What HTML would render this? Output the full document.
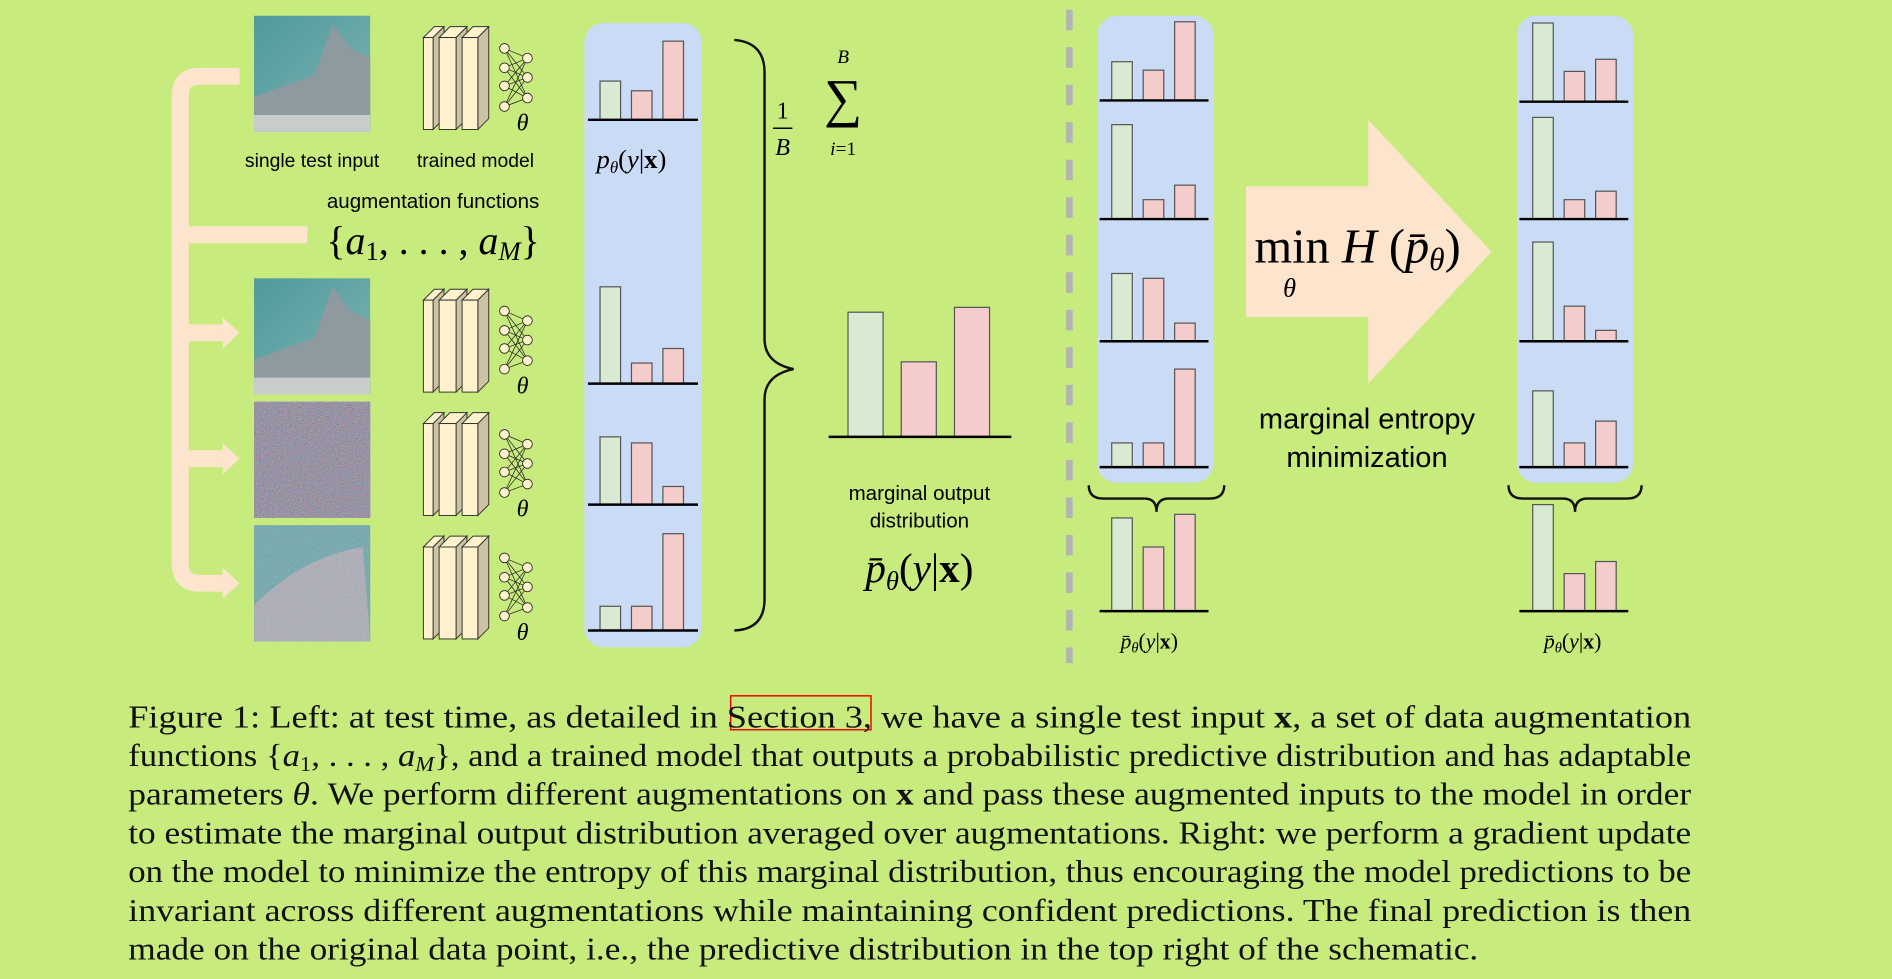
<!DOCTYPE html>
<html><head><meta charset="utf-8"><style>
html,body{margin:0;padding:0;background:#c8eb7d;}
svg{display:block;}
.sans{font-family:"Liberation Sans",sans-serif;}
.serif{font-family:"Liberation Serif",serif;}
</style></head><body>
<svg id="fig" width="1892" height="979" viewBox="0 0 1564 809" preserveAspectRatio="none" xmlns="http://www.w3.org/2000/svg">
<defs>
<filter id="noise" x="0" y="0" width="100%" height="100%">
<feTurbulence type="fractalNoise" baseFrequency="0.9" numOctaves="2" seed="3"/>
<feColorMatrix type="matrix" values="0.9 0 0 0 0.05  0 0.7 0 0 0.1  0 0 0.9 0 0.1  0 0 0 0 1"/>
</filter>
<linearGradient id="sea" x1="0" y1="0" x2="1" y2="1"><stop offset="0" stop-color="#4f9a9c"/><stop offset="1" stop-color="#7fb3b3"/></linearGradient>
</defs>
<rect width="1564" height="809" fill="#c8eb7d"/>

<g fill="none" stroke="#fce5cc" stroke-width="14">
<path d="M198,63 H165 Q149,63 149,79 V466 Q149,482 165,482 H186"/>
<path d="M149,194 H254"/>
<path d="M149,275 H186"/>
<path d="M149,379 H186"/>
</g>
<g fill="#fce5cc">
<polygon points="184,262 198,275 184,288"/>
<polygon points="184,366 198,379 184,392"/>
<polygon points="184,469 198,482 184,495"/>
</g>

<g>
<rect x="210" y="13" width="96" height="96" fill="url(#sea)"/>
<path d="M210,80 L260,62 L275,20 L290,40 L306,48 V109 H210Z" fill="#8d9aa0"/>
<rect x="210" y="95" width="96" height="14" fill="#c8cccc"/>
</g>
<g>
<rect x="210" y="230" width="96" height="96" fill="url(#sea)"/>
<path d="M210,297 L260,279 L275,237 L290,257 L306,265 V326 H210Z" fill="#8d9aa0"/>
<rect x="210" y="312" width="96" height="14" fill="#c8cccc"/>
</g>
<g>
<rect x="210" y="332" width="96" height="96" filter="url(#noise)"/>
<rect x="210" y="332" width="96" height="96" fill="#5a5a6a" opacity="0.35"/>
</g>
<g>
<rect x="210" y="434" width="96" height="96" fill="#5fa8a8"/>
<path d="M210,500 Q250,460 300,452 L306,530 H210Z" fill="#a9aeb3"/>
<rect x="210" y="434" width="96" height="96" filter="url(#noise)" opacity="0.3"/>
</g>

<g id="models"></g>

<text class="sans" x="258" y="138" font-size="16" text-anchor="middle">single test input</text>
<text class="sans" x="393" y="138" font-size="16" text-anchor="middle">trained model</text>
<text class="sans" x="358" y="172" font-size="17" text-anchor="middle">augmentation functions</text>
<text class="serif" x="358" y="210" font-size="33" text-anchor="middle">{<tspan font-style="italic">a</tspan><tspan font-size="22" dy="5">1</tspan><tspan dy="-5">, . . . , </tspan><tspan font-style="italic">a</tspan><tspan font-size="22" font-style="italic" dy="5">M</tspan><tspan dy="-5">}</tspan></text>

<rect x="483" y="19" width="97" height="516" rx="16" fill="#c9dbf5"/>
<text class="serif" x="522" y="139" font-size="22" text-anchor="middle"><tspan font-style="italic">p</tspan><tspan font-size="14" font-style="italic" dy="4">θ</tspan><tspan dy="-4">(</tspan><tspan font-style="italic">y</tspan>|<tspan font-weight="bold">x</tspan>)</text>

<path d="M607,33 Q632,35 632,60 V280 Q632,300 656,305 Q632,310 632,330 V495 Q632,520 607,521" fill="none" stroke="#111" stroke-width="2"/>
<g class="serif">
<text x="647" y="98" font-size="20" text-anchor="middle">1</text>
<line x1="639" y1="106" x2="655" y2="106" stroke="#000" stroke-width="1.3"/>
<text x="647" y="128" font-size="20" text-anchor="middle" font-style="italic">B</text>
<text x="697" y="52" font-size="16" text-anchor="middle" font-style="italic">B</text>
<text x="697" y="96" font-size="44" text-anchor="middle">∑</text>
<text x="697" y="128" font-size="16" text-anchor="middle"><tspan font-style="italic">i</tspan>=1</text>
</g>

<text class="sans" x="760" y="413" font-size="17" text-anchor="middle">marginal output</text>
<text class="sans" x="760" y="436" font-size="17" text-anchor="middle">distribution</text>
<text class="serif" x="760" y="481" font-size="34" text-anchor="middle"><tspan font-style="italic">p̄</tspan><tspan font-size="22" font-style="italic" dy="6">θ</tspan><tspan dy="-6">(</tspan><tspan font-style="italic">y</tspan>|<tspan font-weight="bold">x</tspan>)</text>

<line x1="884" y1="8" x2="884" y2="548" stroke="#b4b4b4" stroke-width="5.5" stroke-dasharray="17 14"/>

<rect x="907" y="13" width="96" height="386" rx="16" fill="#c9dbf5"/>
<rect x="1254" y="13" width="96" height="386" rx="16" fill="#c9dbf5"/>

<path d="M900,401 Q900,412 912,412 H946 Q956,412 956,423 Q956,412 966,412 H1000 Q1012,412 1012,401" fill="none" stroke="#111" stroke-width="2"/>
<path d="M1247,401 Q1247,412 1259,412 H1292 Q1302,412 1302,423 Q1302,412 1312,412 H1345 Q1357,412 1357,401" fill="none" stroke="#111" stroke-width="2"/>

<polygon points="1030,154 1131,154 1131,99 1233,208 1131,317 1131,262 1030,262" fill="#fce5cc"/>
<g class="serif">
<text x="1037" y="217" font-size="40">min <tspan font-style="italic">H</tspan> (<tspan font-style="italic">p̄</tspan><tspan font-size="26" font-style="italic" dy="6">θ</tspan><tspan dy="-6">)</tspan></text>
<text x="1066" y="245" font-size="22" font-style="italic" text-anchor="middle">θ</text>
</g>
<text class="sans" x="1130" y="354" font-size="24" text-anchor="middle">marginal entropy</text>
<text class="sans" x="1130" y="386" font-size="24" text-anchor="middle">minimization</text>

<text class="serif" x="950" y="536" font-size="18" text-anchor="middle"><tspan font-style="italic">p̄</tspan><tspan font-size="12" font-style="italic" dy="3">θ</tspan><tspan dy="-3">(</tspan><tspan font-style="italic">y</tspan>|<tspan font-weight="bold">x</tspan>)</text>
<text class="serif" x="1300" y="536" font-size="18" text-anchor="middle"><tspan font-style="italic">p̄</tspan><tspan font-size="12" font-style="italic" dy="3">θ</tspan><tspan dy="-3">(</tspan><tspan font-style="italic">y</tspan>|<tspan font-weight="bold">x</tspan>)</text>

<g id="bars"></g>

<rect x="604" y="575" width="116" height="28" fill="none" stroke="#e00" stroke-width="1.2"/>
<g class="serif" font-size="26" fill="#111">
<text x="106" y="601" textLength="1292" lengthAdjust="spacingAndGlyphs">Figure 1: Left: at test time, as detailed in Section 3, we have a single test input <tspan font-weight="bold">x</tspan>, a set of data augmentation</text>
<text x="106" y="633" textLength="1292" lengthAdjust="spacingAndGlyphs">functions {<tspan font-style="italic">a</tspan><tspan font-size="17" dy="4">1</tspan><tspan dy="-4">, . . . , </tspan><tspan font-style="italic">a<tspan font-size="17" dy="4">M</tspan></tspan><tspan dy="-4">}, and a trained model that outputs a probabilistic predictive distribution and has adaptable</tspan></text>
<text x="106" y="665" textLength="1292" lengthAdjust="spacingAndGlyphs">parameters <tspan font-style="italic">θ</tspan>. We perform different augmentations on <tspan font-weight="bold">x</tspan> and pass these augmented inputs to the model in order</text>
<text x="106" y="697" textLength="1292" lengthAdjust="spacingAndGlyphs">to estimate the marginal output distribution averaged over augmentations. Right: we perform a gradient update</text>
<text x="106" y="729" textLength="1292" lengthAdjust="spacingAndGlyphs">on the model to minimize the entropy of this marginal distribution, thus encouraging the model predictions to be</text>
<text x="106" y="761" textLength="1292" lengthAdjust="spacingAndGlyphs">invariant across different augmentations while maintaining confident predictions. The final prediction is then</text>
<text x="106" y="793" textLength="1116" lengthAdjust="spacingAndGlyphs">made on the original data point, i.e., the predictive distribution in the top right of the schematic.</text>
</g>
</svg>
<script>
// bar values (probability-like heights, 1 unit = 100 px)
const leftBaselines = [99, 317, 417, 521];
const leftValues = [[0.32, 0.24, 0.65], [0.80, 0.17, 0.29], [0.56, 0.51, 0.15], [0.20, 0.20, 0.80]];
const marginalValues = [1.03, 0.62, 1.07];
const beforeBaselines = [83, 181, 282, 386];
const beforeValues = [[0.32, 0.25, 0.65], [0.78, 0.16, 0.28], [0.56, 0.52, 0.15], [0.20, 0.20, 0.81]];
const beforeMarginal = [0.77, 0.53, 0.80];
const afterBaselines = [84, 181, 282, 386];
const afterValues = [[0.65, 0.25, 0.35], [0.84, 0.16, 0.23], [0.82, 0.29, 0.09], [0.63, 0.20, 0.38]];
const afterMarginal = [0.88, 0.31, 0.41];
const classColors = ['#d9ead3', '#f4cccc', '#f4cccc'];

const NS = 'http://www.w3.org/2000/svg';
const barsG = document.getElementById('bars');
const UNIT = 100;
function yScale(base, v) { return base - v * UNIT; }
function mk(tag, attrs, parent) {
  const e = document.createElementNS(NS, tag);
  for (const k in attrs) e.setAttribute(k, attrs[k]);
  parent.appendChild(e);
  return e;
}
function drawGroup(name, base, vals, x0, gap, w, lx1, lx2) {
  const g = mk('g', {}, barsG);
  
  
  vals.forEach((v, i) => {
    const y = yScale(base, v);
    const r = mk('rect', {x: x0 + i * gap, y: y, width: w, height: base - y, fill: classColors[i], stroke: '#555', 'stroke-width': 1}, g);
    
    
  });
  const l = mk('line', {x1: lx1, x2: lx2, y1: base, y2: base, stroke: '#000', 'stroke-width': 2}, g);
  
  
}
leftValues.forEach((vals, k) => drawGroup('augmented-prediction-' + (k + 1), leftBaselines[k], vals, 496, 26, 17, 486, 577));
drawGroup('marginal-output', 361, marginalValues, 701, 44, 29, 685, 836);
beforeValues.forEach((vals, k) => drawGroup('before-prediction-' + (k + 1), beforeBaselines[k], vals, 919, 26, 17, 909, 999));
drawGroup('before-marginal', 505, beforeMarginal, 919, 26, 17, 909, 999);
afterValues.forEach((vals, k) => drawGroup('after-prediction-' + (k + 1), afterBaselines[k], vals, 1267, 26, 17, 1256, 1346));
drawGroup('after-marginal', 505, afterMarginal, 1267, 26, 17, 1256, 1346);

const modelsG = document.getElementById('models');
const rowsY = [13, 230, 332, 434];
const blocks = [[350, 358], [363, 377], [382, 395]];
rowsY.forEach((y0, k) => {
  const g = mk('g', {}, modelsG);
  
  
  const ft = y0 + 18, fb = y0 + 94, d = 9;
  blocks.forEach(([a, b]) => {
    mk('polygon', {points: `${b},${ft} ${b+d},${ft-d} ${b+d},${fb-d} ${b},${fb}`, fill: '#cbc3a1', stroke: '#333', 'stroke-width': 0.8}, g);
    mk('polygon', {points: `${a},${ft} ${a+d},${ft-d} ${b+d},${ft-d} ${b},${ft}`, fill: '#fff2cc', stroke: '#333', 'stroke-width': 0.8}, g);
    mk('rect', {x: a, y: ft, width: b - a, height: fb - ft, fill: '#fff2cc', stroke: '#333', 'stroke-width': 0.8}, g);
  });
  const L = [27, 43, 58, 75], R = [35, 51, 68];
  L.forEach(a => R.forEach(b => mk('line', {x1: 417, y1: y0 + a, x2: 436, y2: y0 + b, stroke: '#222', 'stroke-width': 0.6}, g)));
  L.forEach(a => mk('circle', {cx: 417, cy: y0 + a, r: 4, fill: '#fff2cc', stroke: '#222', 'stroke-width': 0.7}, g));
  R.forEach(b => mk('circle', {cx: 436, cy: y0 + b, r: 4, fill: '#fff2cc', stroke: '#222', 'stroke-width': 0.7}, g));
  const t = mk('text', {x: 432, y: y0 + 95, 'font-size': 20, 'font-style': 'italic', 'text-anchor': 'middle', class: 'serif'}, g);
  t.textContent = 'θ';
});
</script>
</body></html>
